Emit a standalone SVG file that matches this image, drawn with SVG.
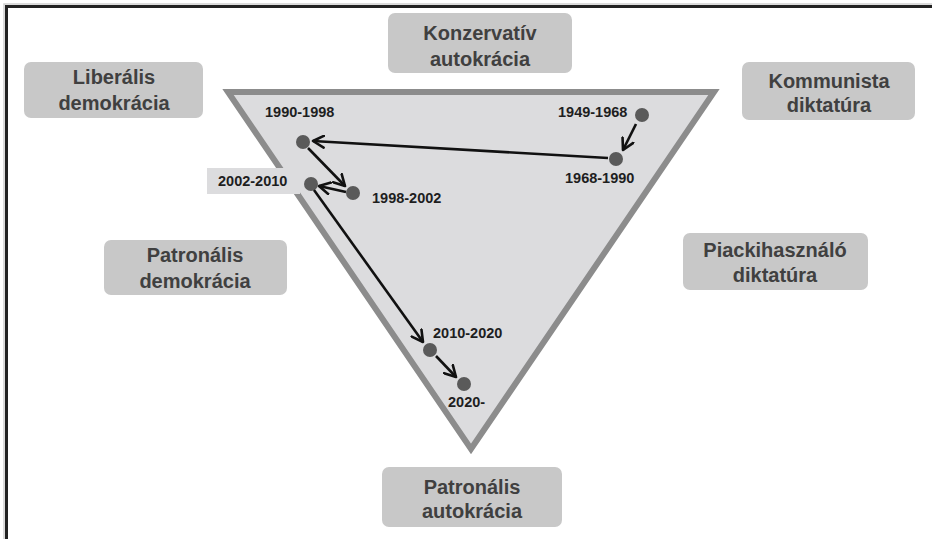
<svg xmlns="http://www.w3.org/2000/svg" width="932" height="539" viewBox="0 0 932 539">
<style>
.box{fill:#c8c8c8;}
.bt{font-family:"Liberation Sans",Arial,sans-serif;font-weight:bold;font-size:20px;fill:#404040;text-anchor:middle;}
.lb{font-family:"Liberation Sans",Arial,sans-serif;font-weight:bold;font-size:14.5px;fill:#1e1e1e;}
.dot{fill:#5a5a5a;}
.ar{stroke:#111;stroke-width:2.6;fill:none;marker-end:url(#ah);}
</style>
<defs>
<marker id="ah" viewBox="0 0 14 14" refX="12" refY="7" markerWidth="14" markerHeight="14" markerUnits="userSpaceOnUse" orient="auto">
<path d="M1,1 L12,7 L1,13" fill="none" stroke="#111" stroke-width="2.6" stroke-linecap="round" stroke-linejoin="round"/>
</marker>
</defs>
<rect width="932" height="539" fill="#fff"/>
<g id="frame">
<path d="M4,539 V4 H932" fill="none" stroke="#d0d0d0" stroke-width="1.5"/>
<path d="M6.5,539 V6.5 H932" fill="none" stroke="#222" stroke-width="3"/>
</g>
<g id="triangle">
<polygon points="228,92 714,92 471,449" fill="#dcdcde" stroke="#8c8c8c" stroke-width="6" stroke-linejoin="miter"/>
</g>
<g id="liberalis-demokracia">
<rect class="box" x="24" y="62" width="179" height="56" rx="7"/>
<text class="bt" x="114" y="84">Liberális</text>
<text class="bt" x="114" y="110">demokrácia</text>
</g>
<g id="konzervativ-autokracia">
<rect class="box" x="388" y="13" width="184" height="60" rx="7"/>
<text class="bt" x="480" y="40">Konzervatív</text>
<text class="bt" x="480" y="66">autokrácia</text>
</g>
<g id="kommunista-diktatura">
<rect class="box" x="742" y="62" width="173" height="58" rx="7"/>
<text class="bt" x="829" y="88">Kommunista</text>
<text class="bt" x="829" y="112">diktatúra</text>
</g>
<g id="patronalis-demokracia">
<rect class="box" x="104" y="240" width="183" height="55" rx="7"/>
<text class="bt" x="195" y="262">Patronális</text>
<text class="bt" x="195" y="288">demokrácia</text>
</g>
<g id="piackihasznalo-diktatura">
<rect class="box" x="683" y="233" width="185" height="57" rx="7"/>
<text class="bt" x="775" y="257">Piackihasználó</text>
<text class="bt" x="775" y="282">diktatúra</text>
</g>
<g id="patronalis-autokracia">
<rect class="box" x="382" y="467" width="180" height="60" rx="7"/>
<text class="bt" x="472" y="494">Patronális</text>
<text class="bt" x="472" y="518">autokrácia</text>
</g>
<g id="p1949">
<circle class="dot" cx="642" cy="115" r="7"/>
<text class="lb" x="558" y="117">1949-1968</text>
</g>
<g id="p1968">
<circle class="dot" cx="616" cy="159" r="7"/>
<text class="lb" x="565" y="183">1968-1990</text>
</g>
<g id="p1990">
<circle class="dot" cx="303" cy="142" r="7"/>
<text class="lb" x="265" y="117">1990-1998</text>
</g>
<g id="p1998">
<circle class="dot" cx="353" cy="193" r="7"/>
<text class="lb" x="372" y="203">1998-2002</text>
</g>
<g id="p2002">
<rect x="207" y="168" width="93" height="26" fill="#dcdcde"/>
<circle class="dot" cx="311" cy="184" r="7"/>
<text class="lb" x="218" y="186">2002-2010</text>
</g>
<g id="p2010">
<circle class="dot" cx="430" cy="350" r="7"/>
<text class="lb" x="433" y="338">2010-2020</text>
</g>
<g id="p2020">
<circle class="dot" cx="464" cy="384" r="7"/>
<text class="lb" x="448" y="407">2020-</text>
</g>
<g id="connectors">
<line class="ar" x1="636" y1="124" x2="623" y2="150"/>
<line class="ar" x1="608" y1="158" x2="313" y2="141"/>
<line class="ar" x1="308" y1="148" x2="345" y2="186"/>
<line class="ar" x1="346" y1="192" x2="319" y2="186"/>
<line class="ar" x1="314" y1="190" x2="423" y2="342"/>
<line class="ar" x1="436" y1="356" x2="456" y2="377"/>
</g>
</svg>
